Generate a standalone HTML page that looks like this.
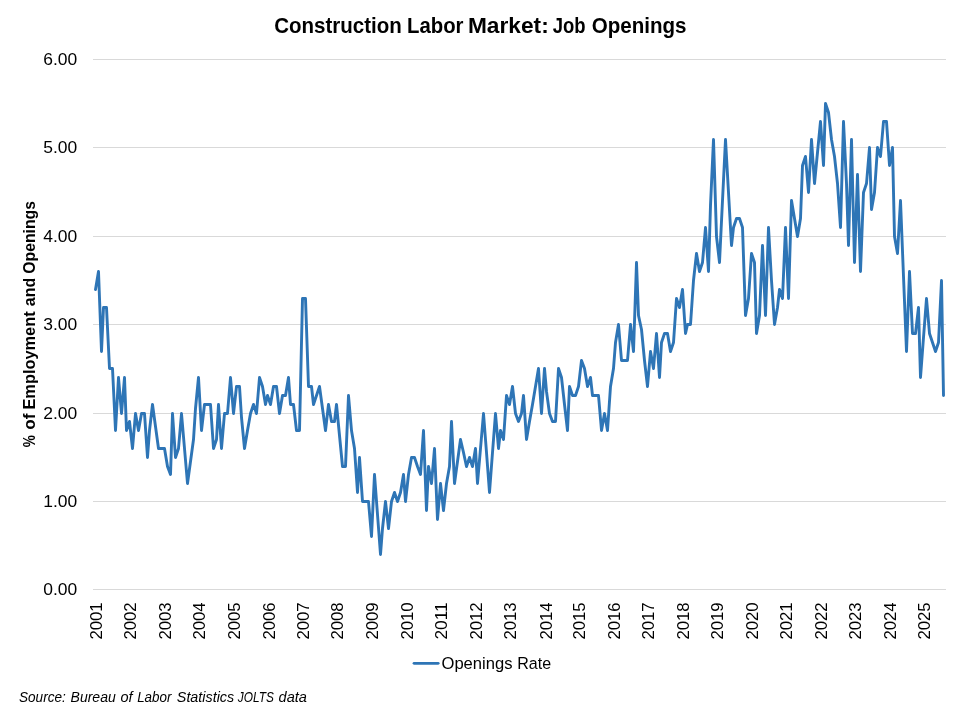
<!DOCTYPE html>
<html><head><meta charset="utf-8"><style>
html,body{margin:0;padding:0;background:#fff;}
svg{display:block;font-family:"Liberation Sans",sans-serif;will-change:transform;}
</style></head><body>
<svg width="960" height="720" viewBox="0 0 960 720">
<rect width="960" height="720" fill="#fff"/>
<g font-weight="bold"><text x="274.16" y="32.8" font-size="21.5" textLength="127.70" lengthAdjust="spacingAndGlyphs">Construction</text><text x="406.96" y="32.8" font-size="21.5" textLength="56.54" lengthAdjust="spacingAndGlyphs">Labor</text><text x="467.94" y="32.8" font-size="21.5" textLength="80.80" lengthAdjust="spacingAndGlyphs">Market:</text><text x="552.66" y="32.8" font-size="21.5" textLength="32.84" lengthAdjust="spacingAndGlyphs">Job</text><text x="591.66" y="32.8" font-size="21.5" textLength="94.84" lengthAdjust="spacingAndGlyphs">Openings</text></g>
<rect x="93" y="589" width="853" height="1" fill="#d9d9d9"/><rect x="93" y="501" width="853" height="1" fill="#d9d9d9"/><rect x="93" y="413" width="853" height="1" fill="#d9d9d9"/><rect x="93" y="324" width="853" height="1" fill="#d9d9d9"/><rect x="93" y="236" width="853" height="1" fill="#d9d9d9"/><rect x="93" y="147" width="853" height="1" fill="#d9d9d9"/><rect x="93" y="59" width="853" height="1" fill="#d9d9d9"/>
<text x="43.30" y="594.9" font-size="17" textLength="34.0" lengthAdjust="spacingAndGlyphs">0.00</text><text x="43.30" y="506.9" font-size="17" textLength="34.0" lengthAdjust="spacingAndGlyphs">1.00</text><text x="43.30" y="418.9" font-size="17" textLength="34.0" lengthAdjust="spacingAndGlyphs">2.00</text><text x="43.30" y="329.9" font-size="17" textLength="34.0" lengthAdjust="spacingAndGlyphs">3.00</text><text x="43.30" y="241.9" font-size="17" textLength="34.0" lengthAdjust="spacingAndGlyphs">4.00</text><text x="43.30" y="152.9" font-size="17" textLength="34.0" lengthAdjust="spacingAndGlyphs">5.00</text><text x="43.30" y="64.9" font-size="17" textLength="34.0" lengthAdjust="spacingAndGlyphs">6.00</text>
<text transform="translate(101.75,639.6) rotate(-90)" font-size="17" textLength="37.2" lengthAdjust="spacingAndGlyphs">2001</text><text transform="translate(136.25,639.6) rotate(-90)" font-size="17" textLength="37.2" lengthAdjust="spacingAndGlyphs">2002</text><text transform="translate(170.75,639.6) rotate(-90)" font-size="17" textLength="37.2" lengthAdjust="spacingAndGlyphs">2003</text><text transform="translate(205.25,639.6) rotate(-90)" font-size="17" textLength="37.2" lengthAdjust="spacingAndGlyphs">2004</text><text transform="translate(239.75,639.6) rotate(-90)" font-size="17" textLength="37.2" lengthAdjust="spacingAndGlyphs">2005</text><text transform="translate(274.75,639.6) rotate(-90)" font-size="17" textLength="37.2" lengthAdjust="spacingAndGlyphs">2006</text><text transform="translate(308.75,639.6) rotate(-90)" font-size="17" textLength="37.2" lengthAdjust="spacingAndGlyphs">2007</text><text transform="translate(343.25,639.6) rotate(-90)" font-size="17" textLength="37.2" lengthAdjust="spacingAndGlyphs">2008</text><text transform="translate(377.75,639.6) rotate(-90)" font-size="17" textLength="37.2" lengthAdjust="spacingAndGlyphs">2009</text><text transform="translate(413.00,639.6) rotate(-90)" font-size="17" textLength="37.2" lengthAdjust="spacingAndGlyphs">2010</text><text transform="translate(446.75,639.6) rotate(-90)" font-size="17" textLength="37.2" lengthAdjust="spacingAndGlyphs">2011</text><text transform="translate(481.75,639.6) rotate(-90)" font-size="17" textLength="37.2" lengthAdjust="spacingAndGlyphs">2012</text><text transform="translate(516.25,639.6) rotate(-90)" font-size="17" textLength="37.2" lengthAdjust="spacingAndGlyphs">2013</text><text transform="translate(551.50,639.6) rotate(-90)" font-size="17" textLength="37.2" lengthAdjust="spacingAndGlyphs">2014</text><text transform="translate(584.75,639.6) rotate(-90)" font-size="17" textLength="37.2" lengthAdjust="spacingAndGlyphs">2015</text><text transform="translate(619.75,639.6) rotate(-90)" font-size="17" textLength="37.2" lengthAdjust="spacingAndGlyphs">2016</text><text transform="translate(653.75,639.6) rotate(-90)" font-size="17" textLength="37.2" lengthAdjust="spacingAndGlyphs">2017</text><text transform="translate(688.75,639.6) rotate(-90)" font-size="17" textLength="37.2" lengthAdjust="spacingAndGlyphs">2018</text><text transform="translate(723.00,639.6) rotate(-90)" font-size="17" textLength="37.2" lengthAdjust="spacingAndGlyphs">2019</text><text transform="translate(758.25,639.6) rotate(-90)" font-size="17" textLength="37.2" lengthAdjust="spacingAndGlyphs">2020</text><text transform="translate(791.75,639.6) rotate(-90)" font-size="17" textLength="37.2" lengthAdjust="spacingAndGlyphs">2021</text><text transform="translate(826.75,639.6) rotate(-90)" font-size="17" textLength="37.2" lengthAdjust="spacingAndGlyphs">2022</text><text transform="translate(860.75,639.6) rotate(-90)" font-size="17" textLength="37.2" lengthAdjust="spacingAndGlyphs">2023</text><text transform="translate(896.00,639.6) rotate(-90)" font-size="17" textLength="37.2" lengthAdjust="spacingAndGlyphs">2024</text><text transform="translate(929.75,639.6) rotate(-90)" font-size="17" textLength="37.2" lengthAdjust="spacingAndGlyphs">2025</text>
<g font-weight="bold"><text transform="translate(35,273.66) rotate(-90)" font-size="17" textLength="72.56" lengthAdjust="spacingAndGlyphs">Openings</text><text transform="translate(35,306.16) rotate(-90)" font-size="17" textLength="28.26" lengthAdjust="spacingAndGlyphs">and</text><text transform="translate(35,409.60) rotate(-90)" font-size="17" textLength="98.26" lengthAdjust="spacingAndGlyphs">Employment</text><text transform="translate(35,429.84) rotate(-90)" font-size="17" textLength="16.24" lengthAdjust="spacingAndGlyphs">of</text><text transform="translate(35,447.30) rotate(-90)" font-size="17" textLength="12.12" lengthAdjust="spacingAndGlyphs">%</text></g>
<polyline points="95.5,289.5 98.5,271.5 101.5,351.5 103.5,307.5 106.5,307.5 109.5,368.5 112.5,368.5 115.5,430.5 118.5,377.5 121.5,413.5 124.5,377.5 126.5,430.5 129.5,421.5 132.5,448.5 135.5,413.5 138.5,430.5 141.5,413.5 144.5,413.5 147.5,457.5 149.5,430.5 152.5,404.5 155.5,426.5 158.5,448.5 161.5,448.5 164.5,448.5 167.5,466.5 170.5,474.5 172.5,413.5 175.5,457.5 178.5,448.5 181.5,413.5 184.5,448.5 187.5,483.5 190.5,461.5 193.5,439.5 195.5,408.5 198.5,377.5 201.5,430.5 204.5,404.5 207.5,404.5 210.5,404.5 213.5,448.5 216.5,439.5 218.5,404.5 221.5,448.5 224.5,413.5 227.5,413.5 230.5,377.5 233.5,413.5 236.5,386.5 239.5,386.5 241.5,417.5 244.5,448.5 247.5,430.5 250.5,413.5 253.5,404.5 256.5,413.5 259.5,377.5 262.5,386.5 265.5,404.5 267.5,395.5 270.5,404.5 273.5,386.5 276.5,386.5 279.5,413.5 282.5,395.5 285.5,395.5 288.5,377.5 290.5,404.5 293.5,404.5 296.5,430.5 299.5,430.5 302.5,298.5 305.5,298.5 308.5,386.5 311.5,386.5 313.5,404.5 316.5,395.5 319.5,386.5 322.5,408.5 325.5,430.5 328.5,404.5 331.5,421.5 334.5,421.5 336.5,404.5 339.5,435.5 342.5,466.5 345.5,466.5 348.5,395.5 351.5,430.5 354.5,448.5 357.5,492.5 359.5,457.5 362.5,501.5 365.5,501.5 368.5,501.5 371.5,536.5 374.5,474.5 377.5,514.5 380.5,554.5 382.5,528.5 385.5,501.5 388.5,528.5 391.5,501.5 394.5,492.5 397.5,501.5 400.5,492.5 403.5,474.5 405.5,501.5 408.5,474.5 411.5,457.5 414.5,457.5 417.5,466.5 420.5,474.5 423.5,430.5 426.5,510.5 428.5,466.5 431.5,483.5 434.5,448.5 437.5,519.5 440.5,483.5 443.5,510.5 446.5,483.5 449.5,466.5 451.5,421.5 454.5,483.5 457.5,461.5 460.5,439.5 463.5,452.5 466.5,466.5 469.5,457.5 472.5,466.5 475.5,448.5 477.5,483.5 480.5,448.5 483.5,413.5 486.5,452.5 489.5,492.5 492.5,452.5 495.5,413.5 498.5,448.5 500.5,430.5 503.5,439.5 506.5,395.5 509.5,404.5 512.5,386.5 515.5,413.5 518.5,421.5 521.5,413.5 523.5,395.5 526.5,439.5 529.5,421.5 532.5,404.5 535.5,386.5 538.5,368.5 541.5,413.5 544.5,368.5 546.5,391.5 549.5,413.5 552.5,421.5 555.5,421.5 558.5,368.5 561.5,377.5 564.5,404.5 567.5,430.5 569.5,386.5 572.5,395.5 575.5,395.5 578.5,386.5 581.5,360.5 584.5,368.5 587.5,386.5 590.5,377.5 592.5,395.5 595.5,395.5 598.5,395.5 601.5,430.5 604.5,413.5 607.5,430.5 610.5,386.5 613.5,368.5 615.5,342.5 618.5,324.5 621.5,360.5 624.5,360.5 627.5,360.5 630.5,324.5 633.5,351.5 636.5,262.5 638.5,315.5 641.5,329.5 644.5,360.5 647.5,386.5 650.5,351.5 653.5,368.5 656.5,333.5 659.5,377.5 661.5,342.5 664.5,333.5 667.5,333.5 670.5,351.5 673.5,342.5 676.5,298.5 679.5,307.5 682.5,289.5 685.5,333.5 687.5,324.5 690.5,324.5 693.5,280.5 696.5,253.5 699.5,271.5 702.5,262.5 705.5,227.5 708.5,271.5 710.5,205.5 713.5,139.5 716.5,236.5 719.5,262.5 722.5,200.5 725.5,139.5 728.5,192.5 731.5,245.5 733.5,227.5 736.5,218.5 739.5,218.5 742.5,227.5 745.5,315.5 748.5,298.5 751.5,253.5 754.5,262.5 756.5,333.5 759.5,315.5 762.5,245.5 765.5,315.5 768.5,227.5 771.5,280.5 774.5,324.5 777.5,307.5 779.5,289.5 782.5,298.5 785.5,227.5 788.5,298.5 791.5,200.5 794.5,218.5 797.5,236.5 800.5,218.5 802.5,165.5 805.5,156.5 808.5,192.5 811.5,139.5 814.5,183.5 817.5,152.5 820.5,121.5 823.5,165.5 825.5,103.5 828.5,112.5 831.5,139.5 834.5,156.5 837.5,183.5 840.5,227.5 843.5,121.5 846.5,183.5 848.5,245.5 851.5,139.5 854.5,262.5 857.5,174.5 860.5,271.5 863.5,192.5 866.5,183.5 869.5,147.5 871.5,209.5 874.5,192.5 877.5,147.5 880.5,156.5 883.5,121.5 886.5,121.5 889.5,165.5 892.5,147.5 894.5,236.5 897.5,253.5 900.5,200.5 903.5,276.5 906.5,351.5 909.5,271.5 912.5,333.5 915.5,333.5 918.5,307.5 920.5,377.5 923.5,337.5 926.5,298.5 929.5,333.5 932.5,342.5 935.5,351.5 938.5,342.5 941.5,280.5 943.5,395.5" fill="none" stroke="#2e75b6" stroke-width="2.9" stroke-linejoin="round" stroke-linecap="round"/>
<line x1="414" y1="663.3" x2="438.2" y2="663.3" stroke="#2e75b6" stroke-width="2.75" stroke-linecap="round"/>
<text x="441.50" y="668.9" font-size="16.3" textLength="71.00" lengthAdjust="spacingAndGlyphs">Openings</text><text x="517.30" y="668.9" font-size="16.3" textLength="33.88" lengthAdjust="spacingAndGlyphs">Rate</text>
<g font-style="italic"><text x="19.00" y="702" font-size="14" textLength="46.82" lengthAdjust="spacingAndGlyphs">Source:</text><text x="70.52" y="702" font-size="14" textLength="45.30" lengthAdjust="spacingAndGlyphs">Bureau</text><text x="120.50" y="702" font-size="14" textLength="12.10" lengthAdjust="spacingAndGlyphs">of</text><text x="137.18" y="702" font-size="14" textLength="34.26" lengthAdjust="spacingAndGlyphs">Labor</text><text x="176.84" y="702" font-size="14" textLength="57.34" lengthAdjust="spacingAndGlyphs">Statistics</text><text x="237.86" y="702" font-size="14" textLength="36.04" lengthAdjust="spacingAndGlyphs">JOLTS</text><text x="278.60" y="702" font-size="14" textLength="28.38" lengthAdjust="spacingAndGlyphs">data</text></g>
</svg>
</body></html>
